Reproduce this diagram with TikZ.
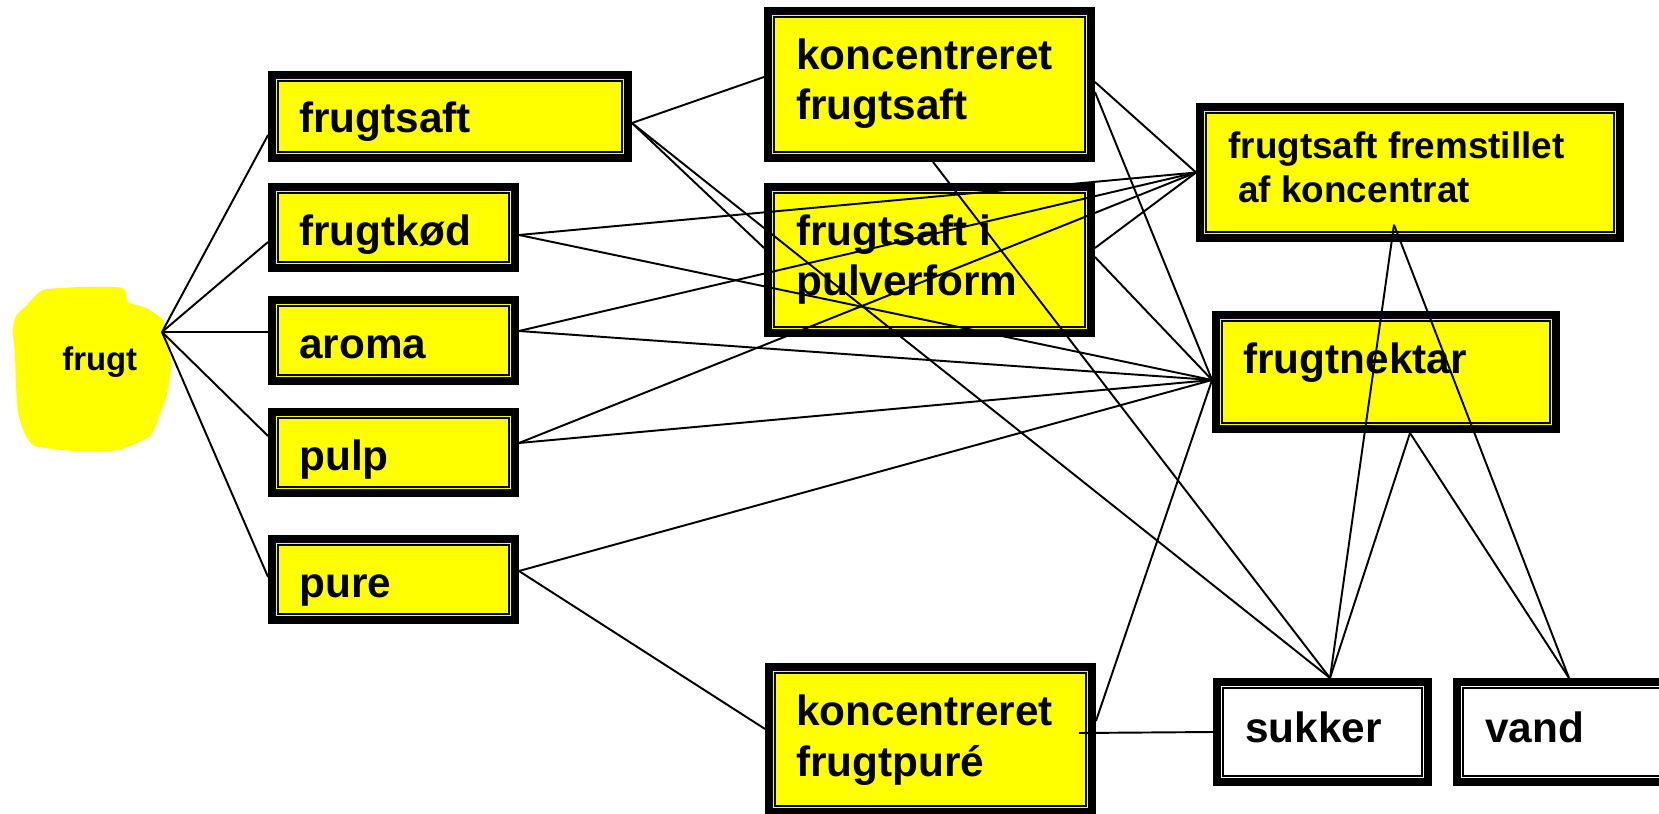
\documentclass[tikz,border=0pt]{standalone}
\usepackage{fontspec}
\setmainfont{Liberation Sans}
\definecolor{pureyellow}{RGB}{255,255,0}
\begin{document}
\begin{tikzpicture}[x=0.02cm,y=-0.02cm,
  boxbase/.style={draw=black, line width=4.3pt, rectangle, inner sep=0pt,
    path picture={\draw[black,line width=1.1pt]
      ([shift={(3.7pt,3.7pt)}]path picture bounding box.south west) rectangle
      ([shift={(-3.7pt,-3.7pt)}]path picture bounding box.north east);}},
  ybox/.style={boxbase, fill=pureyellow},
  wbox/.style={boxbase, fill=white},
  tbig/.style={font=\fontsize{24.1pt}{28.4pt}\selectfont\bfseries, inner sep=0pt, anchor=base west},
  tmid/.style={font=\fontsize{21pt}{25pt}\selectfont\bfseries, inner sep=0pt, anchor=base west},
  tsmall/.style={font=\fontsize{18.7pt}{22pt}\selectfont\bfseries, inner sep=0pt, anchor=base west},
  conn/.style={draw=black, line width=1.1pt},
]
\useasboundingbox (0,0) rectangle (1659,814);
\newcommand\mybox[6]{\node[#6, minimum width={(#4-#2-7.6)*0.569055pt}, minimum height={(#5-#3-7.6)*0.569055pt}] (#1) at ({(#2+#4)/2},{(#3+#5)/2}) {};}

% blob
\fill[pureyellow] plot[smooth cycle, tension=0.35] coordinates {
  (43,290) (84,287) (123,288) (128,302) (146,308) (162,319)
  (169,338) (171,368) (167,394) (160,414) (150,436)
  (118,450) (75,451) (35,446) (24,432) (18,412) (16,385) (15,355)
  (13,330) (16,316) (26,306)};
\node[tsmall] (tfrugt) at (62,370) {frugt};
\coordinate (hub) at (162,332);

% boxes
\mybox{fs}{268}{71}{632}{162}{ybox}
\mybox{fk}{268}{183}{519}{272}{ybox}
\mybox{ar}{268}{296}{519}{385}{ybox}
\mybox{pu}{268}{408}{519}{497}{ybox}
\mybox{pr}{268}{535}{519}{624}{ybox}
\mybox{kf}{764}{7}{1095}{162}{ybox}
\mybox{pv}{764}{183}{1095}{337}{ybox}
\mybox{fa}{1196}{103}{1624}{242}{ybox}
\mybox{fn}{1212}{311}{1560}{433}{ybox}
\mybox{kp}{765}{663}{1096}{816}{ybox}
\mybox{su}{1213}{678}{1432}{786}{wbox}
\mybox{va}{1453}{678}{1672}{786}{wbox}

% texts
\node[tbig] (tfs) at (299,133) {frugtsaft};
\node[tbig] (tfk) at (299,245) {frugtkød};
\node[tbig] (tar) at (299,358) {aroma};
\node[tbig] (tpu) at (299,470) {pulp};
\node[tbig] (tpr) at (299,597) {pure};
\node[tbig] (tkfa) at (796,70) {koncentreret};
\node[tbig] (tkfb) at (796,120) {frugtsaft};
\node[tbig] (tpva) at (796,245) {frugtsaft i};
\node[tbig] (tpvb) at (796,295) {pulverform};
\node[tmid] (tfaa) at (1228,159) {frugtsaft fremstillet};
\node[tmid] (tfab) at (1238,203) {af koncentrat};
\node[tbig] (tfn) at (1243,373) {frugtnektar};
\node[tbig] (tkpa) at (796,725) {koncentreret};
\node[tbig] (tkpb) at (796,776) {frugtpuré};
\node[tbig] (tsu) at (1245,742) {sukker};
\node[tbig] (tva) at (1485,742) {vand};

% connection points
\coordinate (fsE) at ([shift={(0,6.5)}]fs.east);
\coordinate (fkE) at ([shift={(0,7.5)}]fk.east);
\coordinate (arE) at ([shift={(0,-9.5)}]ar.east);
\coordinate (puE) at ([shift={(0,-9.5)}]pu.east);
\coordinate (prE) at ([shift={(0,-8.5)}]pr.east);
\coordinate (fnW) at ([shift={(0,8)}]fn.west);
\coordinate (suN) at ([shift={(7.5,0)}]su.north);
\coordinate (vaN) at ([shift={(6.5,0)}]va.north);
\coordinate (faB) at ([shift={(-16,-17.2)}]fa.south);
\coordinate (fnB) at ([shift={(24,0)}]fn.south);

% connectors
\draw[conn] (hub) -- ([shift={(0,18.5)}]fs.west);
\draw[conn] (hub) -- ([shift={(0,14.5)}]fk.west);
\draw[conn] (hub) -- ([shift={(0,-8.5)}]ar.west);
\draw[conn] (hub) -- ([shift={(0,-16.5)}]pu.west);
\draw[conn] (hub) -- ([shift={(0,-2.5)}]pr.west);
\draw[conn] (fsE) -- ([shift={(0,-7.5)}]kf.west);
\draw[conn] (fsE) -- ([shift={(0,-12)}]pv.west);
\draw[conn] (fsE) -- (suN);
\draw[conn] (fkE) -- (fa.west);
\draw[conn] (fkE) -- (fnW);
\draw[conn] (arE) -- (fa.west);
\draw[conn] (arE) -- (fnW);
\draw[conn] (puE) -- (fa.west);
\draw[conn] (puE) -- (fnW);
\draw[conn] (prE) -- (fnW);
\draw[conn] (prE) -- ([shift={(0,-10.5)}]kp.west);
\draw[conn] ([shift={(0,-2.5)}]kf.east) -- (fa.west);
\draw[conn] ([shift={(0,7.5)}]kf.east) -- (fnW);
\draw[conn] ([shift={(3.5,0)}]kf.south) -- (suN);
\draw[conn] ([shift={(0,-12)}]pv.east) -- (fa.west);
\draw[conn] ([shift={(0,-3)}]pv.east) -- (fnW);
\draw[conn] ([shift={(0,-18.5)}]kp.east) -- (fnW);
\draw[conn] ([shift={(-17.2,-6.5)}]kp.east) -- (su.west);
\draw[conn] (faB) -- (suN);
\draw[conn] (faB) -- (vaN);
\draw[conn] (fnB) -- (suN);
\draw[conn] (fnB) -- (vaN);
\end{tikzpicture}
\end{document}
